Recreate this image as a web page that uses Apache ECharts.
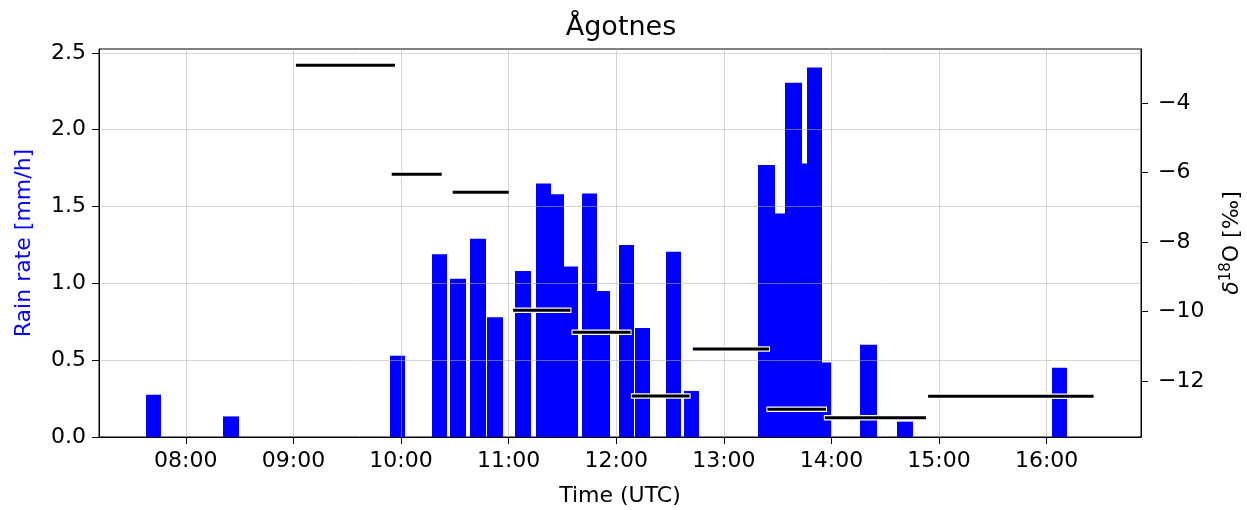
<!DOCTYPE html>
<html>
<head>
<meta charset="utf-8">
<title>Ågotnes</title>
<script src="https://cdn.jsdelivr.net/npm/echarts@6/dist/echarts.min.js"></script>
<style>
  html, body { margin: 0; padding: 0; background: #ffffff; }
  #chart { width: 1247px; height: 510px; }
</style>
</head>
<body>
<div id="chart"></div>
<script>
// Rain gauge intervals (UTC) and rain rate [mm/h]
const rainStart = ['07:38:00', '08:21:00', '09:53:54', '10:17:06', '10:27:30', '10:38:42', '10:48:12',
  '11:03:48', '11:15:18', '11:23:42', '11:31:06', '11:40:48', '11:49:00', '12:01:18', '12:10:36',
  '12:27:30', '12:37:42', '13:19:00', '13:28:18', '13:34:18', '13:43:36', '13:46:24', '13:54:42',
  '14:16:12', '14:36:48', '16:03:06'];
const rainEnd = ['07:46:24', '08:29:24', '10:02:12', '10:25:42', '10:36:06', '10:47:12', '10:56:42',
  '11:12:36', '11:23:42', '11:31:06', '11:38:36', '11:49:00', '11:56:36', '12:09:42', '12:19:00',
  '12:35:54', '12:46:06', '13:28:18', '13:34:18', '13:43:36', '13:46:24', '13:54:42', '14:00:00',
  '14:25:24', '14:45:12', '16:11:30'];
const rainRate = [0.275, 0.134, 0.528, 1.19, 1.03, 1.29, 0.78,
  1.08, 1.65, 1.58, 1.11, 1.585, 0.95, 1.25, 0.71,
  1.205, 0.30, 1.77, 1.455, 2.305, 1.78, 2.405, 0.485,
  0.60, 0.10, 0.45];

// Precipitation samples: collection period (UTC) and δ18O [‰]
const isoStart = ['09:01:24', '09:54:48', '10:28:48', '11:02:30', '11:35:36', '12:08:42', '12:42:42',
  '13:24:18', '13:56:18', '14:53:54'];
const isoEnd = ['09:56:36', '10:22:42', '11:00:06', '11:34:30', '12:08:00', '12:40:54', '13:25:12',
  '13:57:00', '14:52:42', '16:26:12'];
const isoValue = [-2.92, -6.05, -6.57, -9.96, -10.59, -12.42, -11.07, -12.80, -13.05, -12.43];

// Axis ticks
const timeTicks = ['08:00', '09:00', '10:00', '11:00', '12:00', '13:00', '14:00', '15:00', '16:00'];
const rainTicks = [0, 0.5, 1.0, 1.5, 2.0, 2.5];
const isoTicks = [-12, -10, -8, -6, -4];

const FONT = 'DejaVu Sans';

// "HH:MM[:SS]" -> minutes after midnight
function toMin(s) {
  const p = s.split(':').map(Number);
  return p[0] * 60 + p[1] + (p[2] || 0) / 60;
}
function fmtTime(m) {
  const h = Math.floor(m / 60 + 1e-6);
  const mm = Math.round(m - h * 60);
  return String(h).padStart(2, '0') + ':' + String(mm).padStart(2, '0');
}

const rainData = rainStart.map((s, i) => [toMin(s), toMin(rainEnd[i]), rainRate[i]]);
const isoData = isoStart.map((s, i) => [toMin(s), toMin(isoEnd[i]), isoValue[i]]);
const timeTickMin = timeTicks.map(toMin);

// 5 % padding on the time axis around all data
const allT = rainData.flatMap(d => [d[0], d[1]]).concat(isoData.flatMap(d => [d[0], d[1]]));
const tMin = Math.min(...allT), tMax = Math.max(...allT);
const tPad = (tMax - tMin) * 0.05;

const rainMax = Math.max(...rainRate) * 1.05;

const chart = echarts.init(document.getElementById('chart'), null, { renderer: 'canvas' });

const tickLabel = { fontFamily: FONT, fontSize: 22, color: '#000' };

chart.setOption({
  animation: false,
  backgroundColor: '#ffffff',
  title: {
    text: 'Ågotnes',
    left: 616, top: 9, textAlign: 'center',
    textStyle: { fontFamily: FONT, fontSize: 27, fontWeight: 'normal', color: '#000' }
  },
  grid: {
    left: 99, right: 106, top: 49, bottom: 73,
    outerBoundsMode: 'none',
    containLabel: false,
    show: true, borderColor: '#000', borderWidth: 1, backgroundColor: 'transparent'
  },
  xAxis: {
    type: 'value',
    min: tMin - tPad,
    max: tMax + tPad,
    z: 3,
    axisLine: { show: true, lineStyle: { color: '#000', width: 1 } },
    axisTick: { show: true, customValues: timeTickMin, length: 7, lineStyle: { color: '#000', width: 1 } },
    axisLabel: Object.assign({ customValues: timeTickMin, margin: 13, formatter: v => fmtTime(v) }, tickLabel),
    splitLine: { show: true, lineStyle: { color: 'rgba(176,176,176,0.55)', width: 1 } },
    name: 'Time (UTC)',
    nameLocation: 'middle',
    nameGap: 48,
    nameTextStyle: { fontFamily: FONT, fontSize: 22, color: '#000' }
  },
  yAxis: [
    {
      type: 'value',
      position: 'left',
      min: 0,
      max: rainMax,
      z: 3,
      axisLine: { show: true, lineStyle: { color: '#000', width: 1 } },
      axisTick: { show: true, customValues: rainTicks, length: 7, lineStyle: { color: '#000', width: 1 } },
      axisLabel: Object.assign({ customValues: rainTicks, margin: 13, formatter: v => v.toFixed(1) }, tickLabel),
      splitLine: { show: true, lineStyle: { color: 'rgba(176,176,176,0.55)', width: 1 } },
      name: 'Rain rate [mm/h]',
      nameLocation: 'middle',
      nameRotate: 90,
      nameGap: 64,
      nameTextStyle: { fontFamily: FONT, fontSize: 22, color: '#0000ff' }
    },
    {
      type: 'value',
      position: 'right',
      min: -13.6,
      max: -2.45,
      z: 3,
      axisLine: { show: true, lineStyle: { color: '#000', width: 1 } },
      axisTick: { show: true, customValues: isoTicks, length: 7, lineStyle: { color: '#000', width: 1 } },
      axisLabel: Object.assign({ customValues: isoTicks, margin: 17,
        formatter: v => String(v).replace('-', '\u2212') }, tickLabel),
      splitLine: { show: false },
      name: '{d|δ}{s|18}{o|O [‰]}',
      nameLocation: 'middle',
      nameRotate: 90,
      nameGap: 78,
      nameTextStyle: {
        fontFamily: FONT, fontSize: 22, color: '#000',
        rich: {
          d: { fontFamily: FONT, fontSize: 22, fontStyle: 'italic', color: '#000', lineHeight: 26 },
          s: { fontFamily: FONT, fontSize: 15, color: '#000', verticalAlign: 'top', lineHeight: 15 },
          o: { fontFamily: FONT, fontSize: 22, color: '#000', lineHeight: 26 }
        }
      }
    }
  ],
  series: [
    {
      name: 'Rain rate',
      type: 'custom',
      xAxisIndex: 0,
      yAxisIndex: 0,
      z: 1,
      clip: true,
      encode: { x: [0, 1], y: 2 },
      data: rainData,
      renderItem: function (params, api) {
        const base = api.coord([api.value(0), 0]);
        const top = api.coord([api.value(1), api.value(2)]);
        // snap the bar sides to whole pixels so touching bars join without seams
        const x0 = Math.round(base[0]);
        const x1 = Math.round(top[0]);
        return {
          type: 'rect',
          shape: { x: x0, y: top[1], width: x1 - x0, height: base[1] - top[1] },
          style: { fill: '#0000ff' }
        };
      }
    },
    {
      name: 'δ18O',
      type: 'custom',
      xAxisIndex: 0,
      yAxisIndex: 1,
      z: 5,
      encode: { x: [0, 1], y: 2 },
      data: isoData,
      renderItem: function (params, api) {
        const a = api.coord([api.value(0), api.value(2)]);
        const b = api.coord([api.value(1), api.value(2)]);
        return {
          type: 'group',
          children: [
            { type: 'line', shape: { x1: a[0] - 1, y1: a[1], x2: b[0] + 1, y2: b[1] },
              style: { stroke: '#ffffff', lineWidth: 5.5 } },
            { type: 'line', shape: { x1: a[0], y1: a[1], x2: b[0], y2: b[1] },
              style: { stroke: '#000000', lineWidth: 3 } }
          ]
        };
      }
    }
  ]
});
</script>
</body>
</html>
